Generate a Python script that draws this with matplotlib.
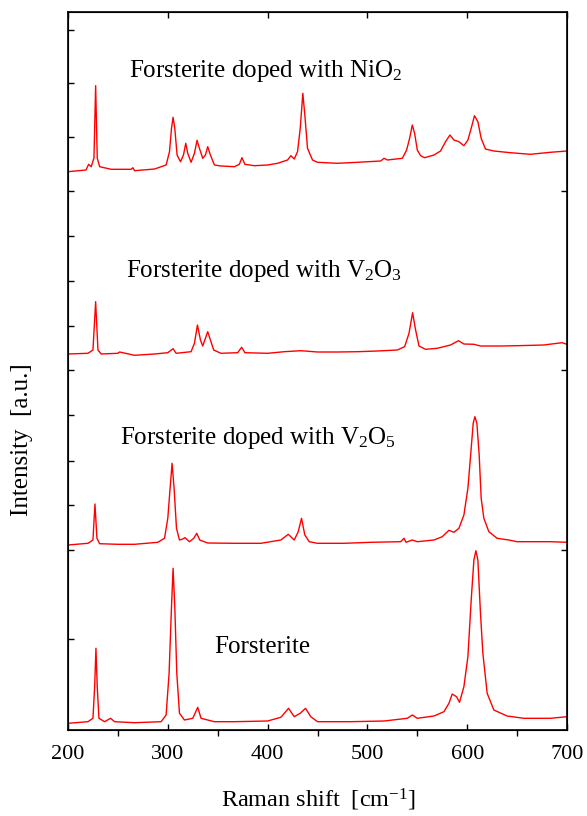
import matplotlib
matplotlib.use("Agg")
import matplotlib.pyplot as plt
from matplotlib.ticker import MultipleLocator, FixedLocator, NullFormatter

plt.rcParams['font.family'] = ['Liberation Serif', 'DejaVu Serif']
plt.rcParams['mathtext.fontset'] = 'custom'
plt.rcParams['mathtext.rm'] = 'Liberation Serif'
plt.rcParams['mathtext.it'] = 'Liberation Serif:italic'

# ---- data (Raman shift in cm^-1, stacked intensity in a.u.) ----
nio2_x = [200, 218, 220.7, 223.3, 226, 227.7, 229.3, 231.7, 243.3, 263.3, 265, 266.7, 286.7, 298.3,
          301.7, 303.7, 305.3, 307, 309.3, 312.7, 315.7, 318, 320, 323.3, 326.7, 329.3, 331.7, 335,
          337.7, 340, 342.7, 346.7, 353.3, 366.7, 371.7, 374.3, 377.3, 386.7, 400, 410, 420, 423.3,
          426.7, 430, 432.7, 435.3, 437.3, 440, 445, 450, 470, 490, 513.3, 516.7, 520, 535, 539.3,
          542.3, 545, 547.3, 550, 553.3, 557.3, 566.7, 573.3, 578.3, 582.7, 586.7, 591.7, 596.7,
          600.7, 604, 607.3, 610.7, 614, 618.3, 626.7, 643.3, 663.3, 683.3, 700]
nio2_y = [558.3, 560, 565.7, 563.3, 572, 644.3, 572, 563.3, 560.7, 560.7, 562.3, 559.3, 561, 565,
          578.3, 601.7, 612.7, 601.7, 575, 568.3, 575, 586.7, 576.7, 567.7, 576.7, 589.7, 581.7, 571.7,
          575, 583.3, 575, 565, 564, 563.3, 565.7, 572.3, 565.7, 564.3, 565, 566.7, 570, 574.3,
          571, 578.3, 601.7, 636.7, 615, 581.7, 570, 567.7, 566.7, 567.7, 569, 571.7, 570, 571.7, 580,
          591.7, 605, 596.7, 580, 574.3, 572.3, 575, 579, 588.3, 595, 590, 588.3, 584.3,
          590, 601.7, 614.3, 608.3, 591.7, 581, 579, 577.3, 575.7, 577.7, 579]

v2o3_x = [200, 220, 225, 227.7, 230, 233.3, 250, 251.7, 266.7, 286.7, 300, 305.3, 308.3, 323.3,
          326.7, 329.7, 332.7, 335, 337.7, 340, 342.7, 346, 353.3, 370, 374, 377.3, 400, 416.7,
          433.3, 450, 470, 490, 510, 530, 537.3, 541.7, 545.3, 548.3, 551.7, 558.3, 570, 583.3,
          591.3, 596.7, 606.7, 613.3, 633.3, 650, 676.7, 695, 700]
v2o3_y = [376, 376.7, 380, 428.3, 380, 376, 376.7, 378, 374.7, 376, 377.3, 381.3, 376.7, 378.3,
          386.7, 405, 390, 384, 391.7, 398.3, 390, 380, 376.7, 377.3, 382.7, 377.3, 376.7, 378.3,
          379.3, 378, 378, 378.3, 379, 380, 383.3, 396.7, 417.3, 400, 384, 380.7, 381.7, 385,
          389.3, 386, 385.7, 384, 384, 384.3, 385, 387.3, 385.7]

v2o5_x = [200, 220, 225, 227, 229, 231.7, 250, 266.7, 290, 296.7, 300, 302.3, 304.3, 306.3, 308.7,
          311.7, 315, 317.3, 321.7, 326, 329, 332, 340, 366.7, 393.3, 413.3, 420.7, 426.7, 430.7,
          434, 437.3, 441.7, 450, 476.7, 503.3, 533.3, 536.7, 538.7, 545, 550, 566.7, 575, 581.7,
          586.7, 591.7, 596.7, 600.7, 604, 606, 607.7, 609.7, 612, 614, 616.7, 621.7, 630, 641.7,
          650, 683.3, 700]
v2o5_y = [185, 186.7, 190, 226, 191.7, 186.3, 185.7, 185.7, 187.7, 191.7, 211.7, 241.7, 266.7, 241.7,
          201.7, 190, 191, 192.3, 188.3, 191.7, 196.7, 190, 187, 186.7, 186.7, 190, 195.7, 190, 198.3,
          211.7, 195, 188.3, 186.7, 186.7, 187.7, 188.3, 191.7, 187.7, 190, 188.3, 190, 193.3, 199.7,
          197.7, 201.7, 215, 241.7, 281.7, 306.7, 313.3, 306.7, 275, 231.7, 211.7, 198.3, 191.7, 190,
          188.3, 188.3, 187.7]

fo_x = [200, 220, 225, 226.7, 228, 229.3, 231, 236.7, 242.7, 246.7, 266.7, 293.3, 298.3, 301.3,
        303.7, 305.3, 307, 309, 311.7, 316.7, 325, 330, 333.3, 340, 346.7, 366.7, 400, 413.3, 421,
        426.7, 432.7, 438, 443.3, 450, 483.3, 516.7, 540, 545, 550, 566.7, 576.7, 581.7, 585,
        589.3, 592.3, 596.7, 600.7, 604, 606.7, 608.7, 610.7, 613.3, 615.7, 620, 626.7, 640,
        656.7, 683.3, 700]
fo_y = [6.7, 8.3, 11.7, 43.3, 81.7, 43.3, 11.7, 8.3, 11.7, 8.3, 7.3, 8.3, 15, 56.7,
        123.3, 161.7, 123.3, 56.7, 16.7, 10, 11.7, 22.7, 11.7, 10, 8.3, 8.3, 9, 12.7, 21.7,
        13.3, 16.7, 21.7, 13.3, 8.3, 8.3, 9, 11.7, 15, 11.7, 14, 18.3, 26.7, 36,
        33.3, 27.7, 43.3, 73.3, 130, 170, 179.3, 170, 116.7, 76.7, 36.7, 20, 14,
        11.7, 11.7, 13.3]

labels = ['Forsterite doped with NiO$_2$', 'Forsterite doped with V$_2$O$_3$',
          'Forsterite doped with V$_2$O$_5$', 'Forsterite']
x_ticks = [200, 300, 400, 500, 600, 700]
y_ticks_left = [91, 180, 225, 269, 315, 360, 404, 449, 494, 539, 593, 647, 700]
y_ticks_right = [180, 360, 539]

# ---- figure ----
W, H = 587, 816
fig = plt.figure(figsize=(W / 100, H / 100), dpi=100)
ax = fig.add_axes([68 / W, 1 - 730 / H, (567 - 68) / W, (730 - 12) / H])

for xs, ys in [(nio2_x, nio2_y), (v2o3_x, v2o3_y), (v2o5_x, v2o5_y), (fo_x, fo_y)]:
    ax.plot(xs, ys, color='#ff0000', lw=1.0)

ax.set_xlim(200, 700)
ax.set_ylim(0, 718)
ax.xaxis.set_major_locator(FixedLocator(x_ticks))
ax.xaxis.set_minor_locator(MultipleLocator(50))
ax.yaxis.set_major_locator(FixedLocator(y_ticks_left))
ax.yaxis.set_major_formatter(NullFormatter())
ax.tick_params(axis='x', which='major', direction='in', length=4, width=1, labelsize=16, pad=11,
               top=True, bottom=True)
ax.tick_params(axis='x', which='minor', direction='out', length=4, width=1, top=False, bottom=True)
ax.tick_params(axis='y', which='major', direction='in', length=4, width=1, left=True, right=False)

axr = ax.twinx()
axr.set_ylim(0, 718)
axr.yaxis.set_major_locator(FixedLocator(y_ticks_right))
axr.yaxis.set_major_formatter(NullFormatter())
axr.tick_params(axis='y', direction='in', length=4, width=1)

for sp in ax.spines.values():
    sp.set_linewidth(1.2)

txt_pos = [(129, 77), (126, 277), (120, 444), (214, 653)]
for lab, (px, py) in zip(labels, txt_pos):
    fig.text(px / W, 1 - py / H, lab, fontsize=18, ha='left', va='baseline')

fig.text(318 / W, 1 - 807 / H, 'Raman shift  [cm$^{-1}$]', fontsize=17.5, ha='center', va='baseline')
fig.text(22 / W, 1 - 440 / H, 'Intensity  [a.u.]', fontsize=18, rotation=90, ha='center', va='center')

fig.savefig('out.png', dpi=100)
